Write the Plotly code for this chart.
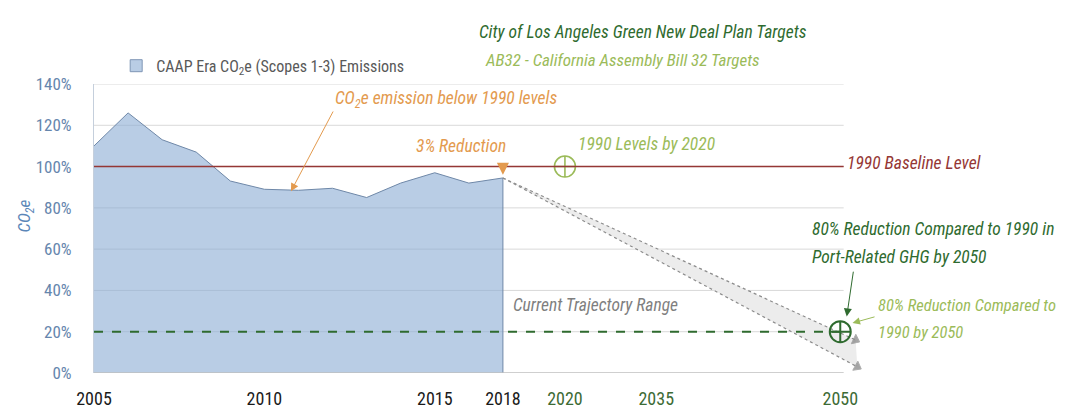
import plotly.graph_objects as go

# ---------------- data ----------------
point_pos = [0, 1, 2, 3, 4, 5, 6, 7, 8, 9, 10, 11, 12]
emissions_pct = [110, 126, 113, 107, 93, 89, 88.5, 89.5, 85, 92, 97, 92, 94.5]

tick_pos = [0, 5, 10, 12, 13.82, 16.5, 21.9]
tick_labels = ["2005", "2010", "2015", "2018", "2020", "2035", "2050"]
future_ticks = ["2020", "2035", "2050"]

y_ticks = [0, 20, 40, 60, 80, 100, 120, 140]

baseline_1990 = 100
target_2020 = (13.82, 100)
target_2050 = (21.9, 20)
traj_end_x = [22.35, 22.4]
traj_end_high = 16
traj_end_low = 3

# ---------------- style ----------------
FONT = "Liberation Sans Narrow, Arial Narrow, Roboto Condensed, sans-serif"
ORANGE = "#e39a4e"
LIGHT_GREEN = "#9bbb59"
DARK_GREEN = "#2f6b2f"
DARK_RED = "#953735"
GRAY_TXT = "#7f7f7f"
AXIS_BLUE = "#6686ad"
X_END = 22

fig = go.Figure()

# trajectory range fill
fig.add_trace(go.Scatter(
    x=[point_pos[-1], traj_end_x[0], traj_end_x[1], point_pos[-1]],
    y=[emissions_pct[-1], traj_end_high, traj_end_low, emissions_pct[-1]],
    fill="toself", fillcolor="#ececec", mode="none",
    showlegend=False, hoverinfo="skip"))

# emissions area
fig.add_trace(go.Scatter(
    x=point_pos + [point_pos[-1]], y=emissions_pct + [0],
    mode="lines", fill="tozeroy", fillcolor="rgba(138,172,212,0.6)",
    line=dict(color="#6f88a8", width=1), showlegend=False, hoverinfo="skip"))

# legend proxy
fig.add_trace(go.Scatter(
    x=[None], y=[None], mode="markers",
    marker=dict(symbol="square", size=12, color="#b9cde5",
                line=dict(color="#7f96b5", width=1)),
    name="CAAP Era CO<sub>2</sub>e (Scopes 1-3) Emissions"))

# 2050 green dashed target line
fig.add_trace(go.Scatter(
    x=[point_pos[0], target_2050[0]], y=[target_2050[1], target_2050[1]],
    mode="lines", line=dict(color=DARK_GREEN, width=2, dash="dash"),
    showlegend=False, hoverinfo="skip"))

# trajectory lines with arrow tips
for ex, ey in [(traj_end_x[0], traj_end_high), (traj_end_x[1], traj_end_low)]:
    fig.add_trace(go.Scatter(
        x=[point_pos[-1], ex], y=[emissions_pct[-1], ey],
        mode="lines+markers",
        line=dict(color="#8c8c8c", width=1.2, dash="dot"),
        marker=dict(symbol="triangle-up", size=[0, 9], color="#7f7f7f",
                    angleref="previous"),
        showlegend=False, hoverinfo="skip", cliponaxis=False))

# target markers
fig.add_trace(go.Scatter(
    x=[target_2020[0]], y=[target_2020[1]], mode="markers",
    marker=dict(symbol="circle-cross-open", size=21, color=LIGHT_GREEN,
                line=dict(width=1.6)),
    showlegend=False, hoverinfo="skip", cliponaxis=False))
fig.add_trace(go.Scatter(
    x=[target_2050[0]], y=[target_2050[1]], mode="markers",
    marker=dict(symbol="circle-cross-open", size=21, color=DARK_GREEN,
                line=dict(width=2)),
    showlegend=False, hoverinfo="skip", cliponaxis=False))

# grid lines, baseline, x axis line
shapes = []
for yt in y_ticks[1:]:
    shapes.append(dict(type="line", xref="x", yref="y", x0=0, x1=X_END,
                       y0=yt, y1=yt, line=dict(color="#d9d9d9", width=1),
                       layer="below"))
shapes.append(dict(type="line", xref="x", yref="y", x0=0, x1=X_END,
                   y0=baseline_1990, y1=baseline_1990,
                   line=dict(color=DARK_RED, width=1.6)))
shapes.append(dict(type="line", xref="x", yref="y", x0=0, x1=X_END,
                   y0=0, y1=0, line=dict(color="#bfbfbf", width=1.5)))

ticktext = [f'<span style="color:#3d6b35">{t}</span>' if t in future_ticks else t
            for t in tick_labels]

def ann(text, x, y, color, size=17.5, xanchor="left", ref="data", **kw):
    d = dict(text=f"<i>{text}</i>", x=x, y=y,
             xref="x" if ref == "data" else "paper",
             yref="y" if ref == "data" else "paper",
             showarrow=False, xanchor=xanchor, yanchor="middle",
             font=dict(family=FONT, size=size, color=color))
    d.update(kw)
    return d

annotations = [
    ann("City of Los Angeles Green New Deal Plan Targets", 0.500, 1.179, DARK_GREEN, 17.5, ref="paper"),
    ann("AB32 - California Assembly Bill 32 Targets", 0.508, 1.083, LIGHT_GREEN, 17, ref="paper"),
    ann("CO<sub>2</sub>e emission below 1990 levels", 7.0, 132.6, ORANGE),
    ann("3% Reduction", 12.14, 109.8, ORANGE, xanchor="right"),
    ann("1990 Levels by 2020", 14.14, 110.7, LIGHT_GREEN),
    ann("1990 Baseline Level", 22.03, 101.9, DARK_RED),
    ann("80% Reduction Compared to 1990 in", 21.0, 69.8, DARK_GREEN),
    ann("Port-Related GHG by 2050", 21.0, 56.3, DARK_GREEN),
    ann("80% Reduction Compared to", 1.022, 0.235, LIGHT_GREEN, 16.5, ref="paper"),
    ann("1990 by 2050", 1.022, 0.14, LIGHT_GREEN, 16.5, ref="paper"),
    ann("Current Trajectory Range", 14.73, 33, GRAY_TXT, xanchor="center"),
    # arrows
    dict(text="", x=5.78, y=88, ax=7.04, ay=127.4, xref="x", yref="y",
         axref="x", ayref="y", showarrow=True, arrowcolor=ORANGE,
         arrowwidth=1, arrowhead=2, arrowsize=1.6),
    dict(text="", x=point_pos[-1], y=emissions_pct[-1] + 1.5,
         ax=point_pos[-1], ay=emissions_pct[-1] + 5, xref="x", yref="y",
         axref="x", ayref="y", showarrow=True, arrowcolor=ORANGE,
         arrowwidth=2, arrowhead=2, arrowsize=1.2),
    dict(text="", x=22.09, y=27.4, ax=22.29, ay=49.8, xref="x", yref="y",
         axref="x", ayref="y", showarrow=True, arrowcolor=DARK_GREEN,
         arrowwidth=1, arrowhead=2, arrowsize=1.6),
    dict(text="", x=22.26, y=24.2, ax=22.95, ay=27.4, xref="x", yref="y",
         axref="x", ayref="y", showarrow=True, arrowcolor=LIGHT_GREEN,
         arrowwidth=1, arrowhead=2, arrowsize=1.5),
    # y-axis title
    dict(text="<i>CO<sub>2</sub>e</i>", x=-0.089, y=0.545, xref="paper",
         yref="paper", showarrow=False, textangle=-90,
         xanchor="center", yanchor="middle",
         font=dict(family=FONT, size=17, color="#5b86b8")),
]

fig.update_layout(
    width=1074, height=413,
    margin=dict(l=86, r=223, t=76, b=36),
    paper_bgcolor="white", plot_bgcolor="white",
    font=dict(family=FONT, size=17, color="#1a1a1a"),
    shapes=shapes, annotations=annotations,
    showlegend=True,
    legend=dict(x=0.029, y=1.063, xanchor="left", yanchor="middle",
                bgcolor="rgba(0,0,0,0)", itemwidth=30,
                font=dict(family=FONT, size=16, color="#595959")),
    xaxis=dict(range=[0, 22.45], tickvals=tick_pos, ticktext=ticktext,
               showgrid=False, zeroline=False, showline=False,
               ticks="outside", ticklen=9, tickcolor="rgba(0,0,0,0)",
               tickfont=dict(family=FONT, size=18, color="#1a1a1a")),
    yaxis=dict(range=[0, 140], tickvals=y_ticks,
               ticktext=[f"{v}%" for v in y_ticks],
               showgrid=False, zeroline=False, showline=True,
               linecolor="#c5cfdc", linewidth=1,
               ticks="outside", ticklen=18, tickcolor="rgba(0,0,0,0)",
               tickfont=dict(family=FONT, size=17, color=AXIS_BLUE)),
)

fig.write_html("out.html")
